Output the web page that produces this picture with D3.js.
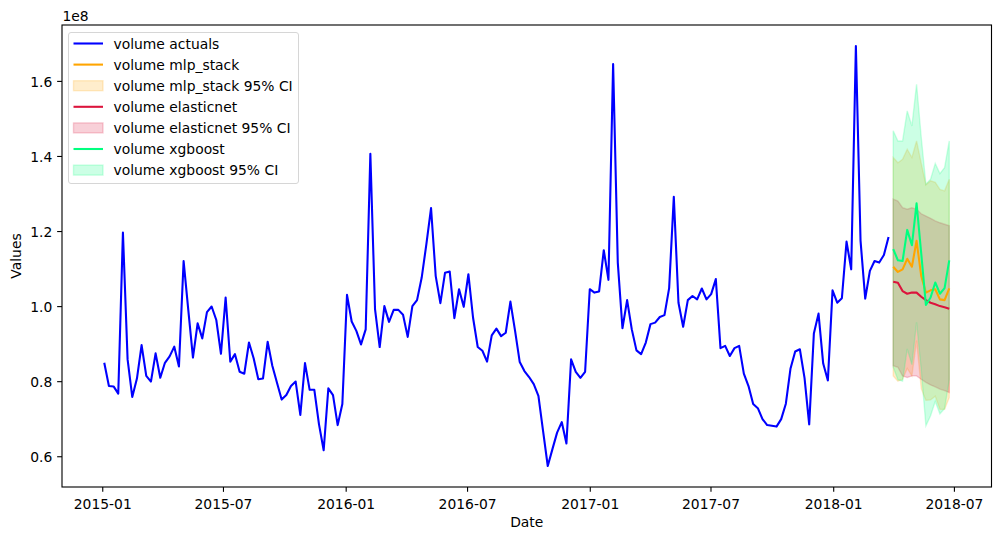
<!DOCTYPE html>
<html lang="en">
<head>
    <meta charset="UTF-8">
    <title>volume forecasts</title>
    <script src="https://cdn.jsdelivr.net/npm/d3@7"></script>
    <style>
        body { margin: 0; background: #fff; }
        text { font-family: "DejaVu Sans", sans-serif; }
    </style>
</head>
<body>
    <div id="chart"></div>

    <script>
        // weekly series, first week and number of actual weeks
        const startDate = new Date(2015, 0, 4);
        const forecastStart = 169;

        // values in units of 1e8
        const actuals = [
            0.849, 0.787, 0.786, 0.767, 1.196, 0.858, 0.758, 0.807, 0.896, 0.814, 0.799, 0.874, 0.809, 0.849, 0.866,
            0.892, 0.839, 1.120, 0.990, 0.863, 0.954, 0.914, 0.984, 0.999, 0.963, 0.873, 1.023, 0.852, 0.872, 0.825,
            0.820, 0.903, 0.861, 0.805, 0.807, 0.905, 0.841, 0.796, 0.751, 0.763, 0.787, 0.799, 0.710,
            0.848, 0.777, 0.777, 0.685, 0.616, 0.781, 0.763, 0.683, 0.739, 1.030, 0.959, 0.934, 0.898, 0.938, 1.406,
            0.992, 0.891, 1.000, 0.958, 0.990, 0.990, 0.977, 0.918, 1.000, 1.016, 1.076, 1.165, 1.261, 1.080, 1.008,
            1.089, 1.092, 0.968, 1.045, 0.998, 1.085, 0.969, 0.891, 0.881, 0.852, 0.922, 0.940,
            0.920, 0.929, 1.012, 0.934, 0.851, 0.827, 0.811, 0.792, 0.761, 0.667, 0.574, 0.619, 0.663, 0.691, 0.634,
            0.858, 0.825, 0.809, 0.825, 1.045, 1.036, 1.039, 1.149, 1.070, 1.645, 1.116, 0.941, 1.016, 0.938, 0.882,
            0.872, 0.903, 0.952, 0.956, 0.971, 0.976, 1.048, 1.291, 1.009, 0.945, 1.016, 1.027, 1.018,
            1.047, 1.018, 1.032, 1.072, 0.888, 0.894, 0.867, 0.888, 0.894, 0.820, 0.787, 0.739, 0.728, 0.699, 0.683,
            0.681, 0.679, 0.699, 0.740, 0.834, 0.879, 0.885, 0.809, 0.685, 0.927, 0.980, 0.847, 0.802, 1.042, 1.009,
            1.021, 1.172, 1.098, 1.693, 1.174, 1.020, 1.094, 1.120, 1.116, 1.136, 1.184
        ];

        const mlp      = [1.105, 1.091, 1.098, 1.126, 1.105, 1.174, 1.080, 1.036, 1.042, 1.045, 1.018, 1.016, 1.047];
        const mlpUpper = [1.396, 1.382, 1.391, 1.418, 1.396, 1.440, 1.380, 1.323, 1.334, 1.330, 1.311, 1.307, 1.338];
        const mlpLower = [0.814, 0.800, 0.805, 0.834, 0.814, 0.908, 0.780, 0.749, 0.750, 0.760, 0.725, 0.725, 0.756];

        const enet      = [1.065, 1.062, 1.040, 1.033, 1.036, 1.036, 1.025, 1.016, 1.009, 1.005, 1.000, 0.997, 0.993];
        const enetUpper = [1.285, 1.280, 1.262, 1.258, 1.262, 1.258, 1.246, 1.240, 1.234, 1.227, 1.222, 1.218, 1.214];
        const enetLower = [0.841, 0.837, 0.814, 0.810, 0.814, 0.814, 0.805, 0.797, 0.790, 0.785, 0.779, 0.775, 0.770];

        const xgb      = [1.152, 1.122, 1.120, 1.203, 1.162, 1.274, 1.140, 1.003, 1.023, 1.063, 1.033, 1.048, 1.122];
        const xgbUpper = [1.467, 1.440, 1.440, 1.520, 1.480, 1.591, 1.450, 1.325, 1.338, 1.380, 1.353, 1.369, 1.440];
        const xgbLower = [0.837, 0.804, 0.800, 0.886, 0.844, 0.957, 0.830, 0.681, 0.708, 0.746, 0.713, 0.727, 0.804];

        const yTicks = [0.6, 0.8, 1.0, 1.2, 1.4, 1.6];

        const width = 1001;
        const height = 540;
        const marginTop = 25;
        const marginRight = 9.5;
        const marginBottom = 53;
        const marginLeft = 62;
        const pt = 100 / 72; // matplotlib points -> px

        const week = i => d3.timeDay.offset(startDate, 7 * i);
        const actualData = actuals.map((v, i) => ({date: week(i), v}));
        const fc = (arr) => arr.map((v, i) => ({date: week(forecastStart + i), v}));
        const band = (lo, hi) => lo.map((v, i) => ({date: week(forecastStart + i), lo: v, hi: hi[i]}));

        const models = [
            {name: "mlp_stack", color: "orange", line: fc(mlp), band: band(mlpLower, mlpUpper)},
            {name: "elasticnet", color: "crimson", line: fc(enet), band: band(enetLower, enetUpper)},
            {name: "xgboost", color: "springgreen", line: fc(xgb), band: band(xgbLower, xgbUpper)}
        ];

        // matplotlib style 5% margins
        const xExt = [startDate, week(forecastStart + mlp.length - 1)];
        const xPad = (xExt[1] - xExt[0]) * 0.05;
        const allY = actuals.concat(mlpLower, mlpUpper, enetLower, enetUpper, xgbLower, xgbUpper);
        const yExt = d3.extent(allY);
        const yPad = (yExt[1] - yExt[0]) * 0.05;

        const x = d3.scaleTime()
            .domain([new Date(+xExt[0] - xPad), new Date(+xExt[1] + xPad)])
            .range([marginLeft, width - marginRight]);

        const y = d3.scaleLinear()
            .domain([yExt[0] - yPad, yExt[1] + yPad])
            .range([height - marginBottom, marginTop]);

        const svg = d3.select("#chart").append("svg")
            .attr("width", width)
            .attr("height", height)
            .style("background", "#fff");

        const line = d3.line().x(d => x(d.date)).y(d => y(d.v));
        const area = d3.area().x(d => x(d.date)).y0(d => y(d.lo)).y1(d => y(d.hi));

        // fills sit below all lines (collections zorder 1, lines zorder 2)
        models.forEach(m => {
            svg.append("path")
                .attr("d", area(m.band))
                .attr("fill", m.color)
                .attr("fill-opacity", 0.2)
                .attr("stroke", m.color)
                .attr("stroke-opacity", 0.2)
                .attr("stroke-width", pt);
        });

        svg.append("path")
            .attr("d", line(actualData))
            .attr("fill", "none")
            .attr("stroke", "blue")
            .attr("stroke-width", 1.5 * pt)
            .attr("stroke-linejoin", "round");

        models.forEach(m => {
            svg.append("path")
                .attr("d", line(m.line))
                .attr("fill", "none")
                .attr("stroke", m.color)
                .attr("stroke-width", 1.5 * pt)
                .attr("stroke-linejoin", "round");
        });

        // axes
        svg.append("g")
            .attr("transform", `translate(0,${height - marginBottom})`)
            .call(d3.axisBottom(x).ticks(d3.timeMonth.every(6)).tickFormat(d3.timeFormat("%Y-%m"))
                .tickSize(3.5 * pt).tickPadding(3.5 * pt).tickSizeOuter(0))
            .call(g => g.select(".domain").remove())
            .call(g => g.selectAll(".tick line").attr("stroke-width", 0.8 * pt))
            .call(g => g.selectAll(".tick text").attr("dy", "0.885em")
                .attr("font-size", "13.89px").attr("font-family", "DejaVu Sans").attr("fill", "#000"));

        svg.append("g")
            .attr("transform", `translate(${marginLeft},0)`)
            .call(d3.axisLeft(y).tickValues(yTicks).tickFormat(d3.format(".1f"))
                .tickSize(3.5 * pt).tickPadding(3.5 * pt).tickSizeOuter(0))
            .call(g => g.select(".domain").remove())
            .call(g => g.selectAll(".tick line").attr("stroke-width", 0.8 * pt))
            .call(g => g.selectAll(".tick text").attr("dy", "0.4em")
                .attr("font-size", "13.89px").attr("font-family", "DejaVu Sans").attr("fill", "#000"));

        svg.append("rect")
            .attr("x", marginLeft)
            .attr("y", marginTop)
            .attr("width", width - marginRight - marginLeft)
            .attr("height", height - marginBottom - marginTop)
            .attr("fill", "none")
            .attr("stroke", "#000")
            .attr("stroke-width", 0.8 * pt);

        svg.append("text")
            .attr("x", marginLeft + 0.5)
            .attr("y", 20.7)
            .attr("font-size", "13.89px")
            .text("1e8");

        svg.append("text")
            .attr("x", (marginLeft + width - marginRight) / 2)
            .attr("y", 526.5)
            .attr("text-anchor", "middle")
            .attr("font-size", "13.89px")
            .text("Date");

        svg.append("text")
            .attr("transform", `translate(21,${(marginTop + height - marginBottom) / 2}) rotate(-90)`)
            .attr("text-anchor", "middle")
            .attr("font-size", "13.89px")
            .text("Values");

        // legend
        const legendItems = [{label: "volume actuals", color: "blue", kind: "line"}];
        models.forEach(m => {
            legendItems.push({label: `volume ${m.name}`, color: m.color, kind: "line"});
            legendItems.push({label: `volume ${m.name} 95% CI`, color: m.color, kind: "patch"});
        });

        const legend = svg.append("g");
        legend.append("rect")
            .attr("x", 68.5)
            .attr("y", 32.5)
            .attr("width", 230)
            .attr("height", 151)
            .attr("rx", 2.5)
            .attr("fill", "#fff")
            .attr("fill-opacity", 0.8)
            .attr("stroke", "#d6d6d6")
            .attr("stroke-width", 1);

        const item = legend.selectAll("g.item")
            .data(legendItems)
            .join("g")
            .attr("class", "item")
            .attr("transform", (d, i) => `translate(0,${43.5 + i * 21.1})`);

        item.filter(d => d.kind === "line").append("line")
            .attr("x1", 73.5).attr("x2", 103)
            .attr("stroke", d => d.color)
            .attr("stroke-width", 1.5 * pt);

        item.filter(d => d.kind === "patch").append("rect")
            .attr("x", 73.5).attr("y", -5)
            .attr("width", 29.5).attr("height", 10)
            .attr("fill", d => d.color)
            .attr("fill-opacity", 0.2)
            .attr("stroke", d => d.color)
            .attr("stroke-opacity", 0.2)
            .attr("stroke-width", pt);

        item.append("text")
            .attr("x", 113.5)
            .attr("y", 5)
            .attr("font-size", "13.89px")
            .attr("fill", "#000")
            .text(d => d.label);
    </script>
</body>
</html>
